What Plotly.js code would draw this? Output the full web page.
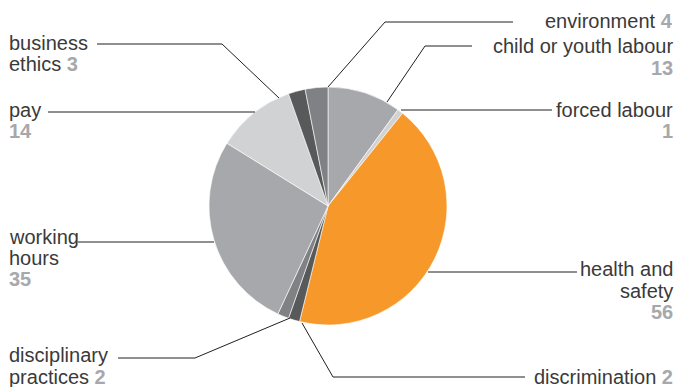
<!DOCTYPE html>
<html><head><meta charset="utf-8">
<script src="https://cdn.plot.ly/plotly-3.0.1.min.js"></script>
<style>html,body{margin:0;padding:0;background:#fff}#chart{width:679px;height:387px}</style>
</head><body><div id="chart"></div>
<script>
// Data
const categories = ["child or youth labour","forced labour","health and safety","discrimination","disciplinary practices","working hours","pay","business ethics","environment"];
const values = [13,1,56,2,2,35,14,3,4];
const colors = ["#a7a8ab","#d1d2d4","#f6992a","#58595b","#808184","#a7a8ab","#d1d2d4","#58595b","#808184"];

const W=679,H=387;
const px=x=>x/W, py=y=>1-y/H;
const cx=328, cy=206, r=119;

const trace={type:'pie',labels:categories,values:values,sort:false,direction:'clockwise',rotation:0,
  marker:{colors:colors,line:{color:'#ffffff',width:0.6}},textinfo:'none',hoverinfo:'label+value',
  domain:{x:[px(cx-r),px(cx+r)],y:[py(cy+r),py(cy-r)]},showlegend:false};

const FONT='Liberation Sans, Arial, sans-serif';
const NUM=n=>'<b><span style="color:#a7a8ab">'+n+'</span></b>';
// label lines: [text, x, y, anchor]
const labelLines=[
 ['environment '+NUM(values[8]),675,21,'right'],
 ['child or youth labour',675,46,'right'],[NUM(values[0]),675,68,'right'],
 ['forced labour',675,110,'right'],[NUM(values[1]),675,131,'right'],
 ['health and',675,269,'right'],['safety',675,291,'right'],[NUM(values[2]),675,312,'right'],
 ['discrimination '+NUM(values[3]),675,377,'right'],
 ['business',7,43,'left'],['ethics '+NUM(values[7]),7,64,'left'],
 ['pay',7,110,'left'],[NUM(values[6]),7,131,'left'],
 ['working',7,237,'left'],['hours',7,258,'left'],[NUM(values[5]),7,279,'left'],
 ['disciplinary',7,355,'left'],['practices '+NUM(values[4]),7,377,'left']
];
const annotations=labelLines.map(l=>({text:l[0],x:px(l[1]),y:py(l[2]),xref:'paper',yref:'paper',
  xanchor:l[3],yanchor:'middle',align:l[3],showarrow:false,font:{family:FONT,size:20,color:'#3a3a3a'}}));

const leaders=[
 [[97,44],[222,44],[279,98]],
 [[48,112],[255,112]],
 [[78,242],[214,242]],
 [[118,358],[195,358],[290,318]],
 [[525,377],[333,377],[302,323]],
 [[428,272],[577,272]],
 [[401,110],[552,110]],
 [[472,46],[425,46],[387,102]],
 [[513,22],[385,22],[328,87]]
];
const shapes=leaders.map(pts=>({type:'path',xref:'paper',yref:'paper',
  path:pts.map((p,i)=>(i?'L':'M')+px(p[0])+','+py(p[1])).join(' '),
  line:{color:'#231f20',width:1}}));

Plotly.newPlot('chart',[trace],{width:W,height:H,margin:{l:0,r:0,t:0,b:0},
  paper_bgcolor:'#fff',plot_bgcolor:'#fff',annotations:annotations,shapes:shapes,showlegend:false},
  {staticPlot:true,displayModeBar:false});
</script></body></html>
